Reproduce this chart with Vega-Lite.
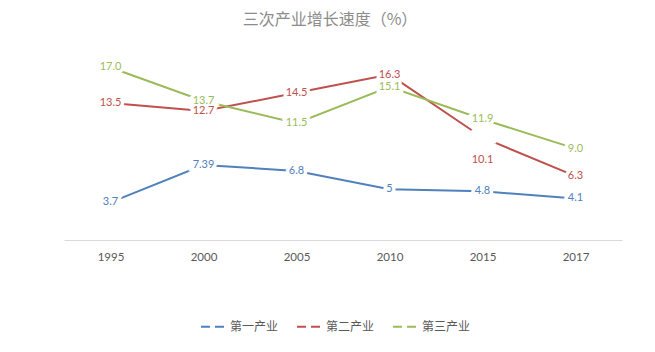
{
  "$schema": "https://vega.github.io/schema/vega-lite/v6.json",
  "autosize": {"type": "none"},
  "width": 558,
  "height": 203,
  "padding": {"left": 64, "top": 37, "right": 33, "bottom": 112},
  "background": "white",
  "config": {"view": {"stroke": null}},
  "title": {
    "text": "三次产业增长速度（%）",
    "font": "Noto Sans CJK SC",
    "fontSize": 16,
    "fontWeight": "normal",
    "color": "#8c8c8c",
    "anchor": "middle",
    "dx": -13,
    "offset": 9
  },
  "data": {
    "values": [
      {"year": "1995", "series": "第一产业", "value": 3.7, "label": "3.7"},
      {"year": "2000", "series": "第一产业", "value": 7.39, "label": "7.39"},
      {"year": "2005", "series": "第一产业", "value": 6.8, "label": "6.8"},
      {"year": "2010", "series": "第一产业", "value": 5, "label": "5"},
      {"year": "2015", "series": "第一产业", "value": 4.8, "label": "4.8"},
      {"year": "2017", "series": "第一产业", "value": 4.1, "label": "4.1"},
      {"year": "1995", "series": "第二产业", "value": 13.5, "label": "13.5"},
      {"year": "2000", "series": "第二产业", "value": 12.7, "label": "12.7"},
      {"year": "2005", "series": "第二产业", "value": 14.5, "label": "14.5"},
      {"year": "2010", "series": "第二产业", "value": 16.3, "label": "16.3"},
      {"year": "2015", "series": "第二产业", "value": 10.1, "label": "10.1"},
      {"year": "2017", "series": "第二产业", "value": 6.3, "label": "6.3"},
      {"year": "1995", "series": "第三产业", "value": 17.0, "label": "17.0"},
      {"year": "2000", "series": "第三产业", "value": 13.7, "label": "13.7"},
      {"year": "2005", "series": "第三产业", "value": 11.5, "label": "11.5"},
      {"year": "2010", "series": "第三产业", "value": 15.1, "label": "15.1"},
      {"year": "2015", "series": "第三产业", "value": 11.9, "label": "11.9"},
      {"year": "2017", "series": "第三产业", "value": 9.0, "label": "9.0"}
    ]
  },
  "encoding": {
    "x": {
      "field": "year",
      "type": "ordinal",
      "scale": {"type": "point", "padding": 0.5},
      "axis": {
        "title": null,
        "labelAngle": 0,
        "ticks": false,
        "domainColor": "#d9d9d9",
        "domainWidth": 1,
        "labelFont": "Lato",
        "labelFontSize": 11.5,
        "labelColor": "#595959",
        "labelPadding": 11,
        "grid": false
      }
    },
    "y": {
      "field": "value",
      "type": "quantitative",
      "scale": {"domain": [0, 20], "nice": false},
      "axis": null
    },
    "color": {
      "field": "series",
      "type": "nominal",
      "scale": {
        "domain": ["第一产业", "第二产业", "第三产业"],
        "range": ["#4F81BD", "#C0504D", "#9BBB59"]
      },
      "legend": {
        "title": null,
        "orient": "none",
        "direction": "horizontal",
        "legendX": 136,
        "legendY": 276,
        "symbolType": "stroke",
        "symbolSize": 625,
        "symbolStrokeWidth": 2,
        "symbolDash": [9, 5],
        "labelFont": "Noto Sans CJK SC",
        "labelFontSize": 12,
        "labelColor": "#595959",
        "labelOffset": 3,
        "columnPadding": 14
      }
    }
  },
  "layer": [
    {"mark": {"type": "line", "strokeWidth": 2}},
    {
      "mark": {"type": "text", "font": "Lato", "fontSize": 11, "fill": "white", "stroke": "white", "strokeWidth": 7},
      "encoding": {"text": {"field": "label"}, "color": {"value": "white"}}
    },
    {
      "transform": [{"filter": "!(datum.year == '2015' && datum.series == '第二产业')"}],
      "mark": {"type": "text", "font": "Lato", "fontSize": 11},
      "encoding": {"text": {"field": "label"}}
    },
    {
      "transform": [{"filter": "datum.year == '2015' && datum.series == '第二产业'"}],
      "mark": {"type": "text", "font": "Lato", "fontSize": 11, "dy": 23},
      "encoding": {"text": {"field": "label"}}
    }
  ]
}
